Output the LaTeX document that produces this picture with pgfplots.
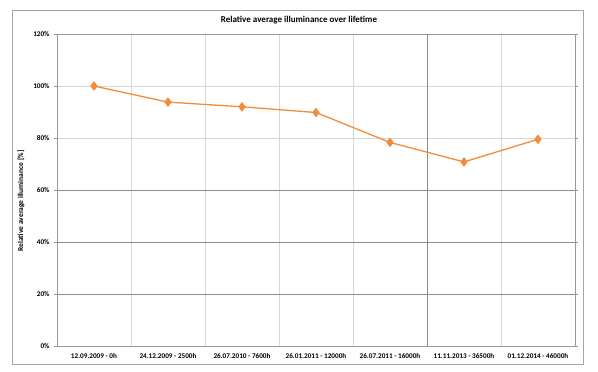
\documentclass[border=0pt]{standalone}
\usepackage{fontspec}
\setmainfont{Carlito}
\usepackage{pgfplots}
\pgfplotsset{compat=1.18}
\definecolor{xlorange}{RGB}{240,140,60}
\definecolor{gridlight}{RGB}{215,215,215}
\definecolor{griddark}{RGB}{140,140,140}
\begin{document}
\begin{tikzpicture}
\path[fill=white] (-57pt,-26pt) rectangle (541pt,346pt);
\draw[color=gray!70, line width=0.6pt] (-44.3pt,-18.7pt) rectangle (526pt,336pt);
\begin{axis}[
  at={(0,0)}, anchor=south west,
  scale only axis, width=518pt, height=312pt,
  xmin=-0.5, xmax=6.5, ymin=0, ymax=120,
  xtick={0,1,2,3,4,5,6},
  xticklabels={12.09.2009 - 0h, 24.12.2009 - 2500h, 26.07.2010 - 7600h, 26.01.2011 - 12000h, 26.07.2011 - 16000h, 11.11.2013 - 36500h, 01.12.2014 - 46000h},
  minor xtick={0.5,1.5,2.5,3.5,4.5,5.5},
  xminorgrids=true, xmajorgrids=false,
  ytick={0,20,40,60,80,100,120},
  yticklabel={\pgfmathprintnumber{\tick}\%},
  ymajorgrids=true,
  grid style={gridlight, line width=0.6pt},
  minor grid style={gridlight, line width=0.6pt},
  axis line style={gray!80, line width=0.6pt},
  x tick label style={font=\fontsize{7.2}{8}\selectfont\bfseries, yshift=-1pt},
  y tick label style={font=\fontsize{7.2}{8}\selectfont\bfseries, xshift=-1pt},
  /pgf/number format/assume math mode=true,
  major tick length=3pt, minor tick length=3pt,
  ytick style={gray!80, line width=0.6pt},
  xtick style={draw=none},
  minor x tick style={gray!80},
  tick align=outside,
  clip=false,
]
\draw[griddark, line width=0.6pt] (axis cs:-0.5,20) -- (axis cs:6.5,20);
\draw[griddark, line width=0.6pt] (axis cs:-0.5,40) -- (axis cs:6.5,40);
\draw[griddark, line width=0.6pt] (axis cs:-0.5,60) -- (axis cs:6.5,60);
\draw[griddark, line width=0.6pt] (axis cs:4.5,0) -- (axis cs:4.5,120);
\addplot[xlorange, line width=1.3pt, mark=diamond*, mark size=3.8pt, mark options={fill=xlorange, draw=xlorange}]
  coordinates {(0,100) (1,93.8) (2,92) (3,89.8) (4,78.3) (5,70.8) (6,79.5)};
\end{axis}
\node[font=\fontsize{9}{10}\selectfont\bfseries] at (242pt,326pt) {Relative average illuminance over lifetime};
\node[font=\fontsize{7.5}{8}\selectfont\bfseries, rotate=90] at (-36pt,145pt) {Relative average illuminance [\%]};
\end{tikzpicture}
\end{document}
